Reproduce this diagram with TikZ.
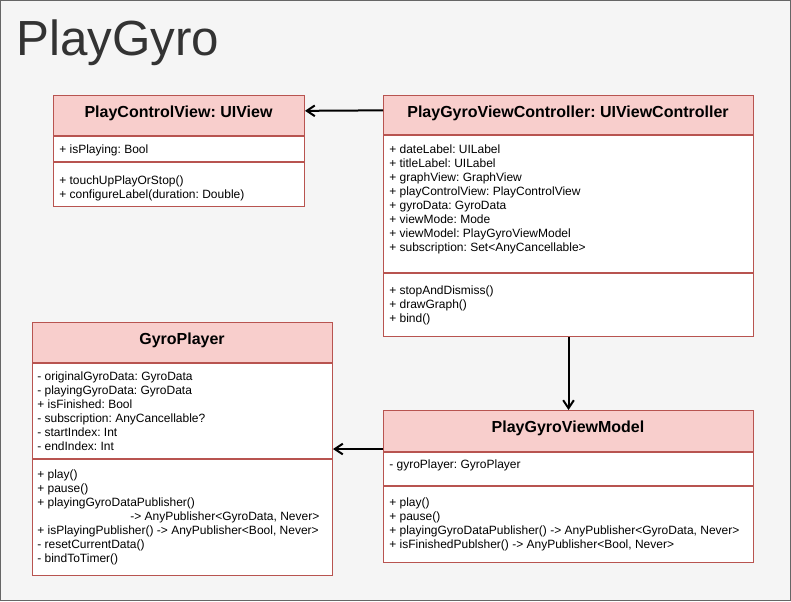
\documentclass[tikz,border=0pt]{standalone}
\usepackage{fontspec}
\setmainfont{Liberation Sans}
\usetikzlibrary{arrows.meta,positioning}
\definecolor{headfill}{HTML}{F8CECC}
\definecolor{headline}{HTML}{B85450}
\definecolor{canvas}{HTML}{F5F5F5}
\definecolor{frameline}{HTML}{666666}
\definecolor{titlegray}{HTML}{333333}
\newcommand\pix[1]{#1*0.75pt}
\frenchspacing

\begin{document}
\begin{tikzpicture}[x=0.75pt,y=-0.75pt,
  every node/.style={inner sep=0pt},
  part/.style={draw=headline, fill=white, line width=0.75pt, anchor=north west},
  head/.style={part, fill=headfill},
  cname/.style={anchor=base, font=\fontsize{12}{14}\selectfont\bfseries},
  member/.style={anchor=base west, font=\fontsize{9}{10.5}\selectfont},
  link/.style={-{Straight Barb[length=6pt,width=8pt]}, line width=1.5pt}]
  \useasboundingbox (0,0) rectangle (791,601);
  \draw[frameline, fill=canvas] (0.5,0.5) rectangle (790.5,600.5);
  \node[anchor=base west, text=titlegray, font=\fontsize{37}{42}\selectfont] (title) at (16,55) {PlayGyro};

  % PlayControlView
  \node[head, minimum width=\pix{251}, minimum height=\pix{40}] (pcvHead) at (53,95) {};
  \node[part, minimum width=\pix{251}, minimum height=\pix{25}] (pcvAttr) at (pcvHead.south west) {};
  \node[part, minimum width=\pix{251}, minimum height=\pix{44}] (pcvOps) at (pcvAttr.south west) {};
  \node[cname] (pcvName) at (178.5,117) {PlayControlView: UIView};
  \node[member] (pcvA1) at (59,153) {+ isPlaying: Bool};
  \foreach \t [count=\i] in {{+ touchUpPlayOrStop()},{+ configureLabel(duration: Double)}}
    \node[member] (pcvO\i) at (59,{170+14*\i}) {\t};

  % PlayGyroViewController
  \node[head, minimum width=\pix{370}, minimum height=\pix{39}] (vcHead) at (383,95) {};
  \node[part, minimum width=\pix{370}, minimum height=\pix{137}] (vcAttr) at (vcHead.south west) {};
  \node[part, minimum width=\pix{370}, minimum height=\pix{63}] (vcOps) at (vcAttr.south west) {};
  \node[cname] (vcName) at (568,117) {PlayGyroViewController: UIViewController};
  \foreach \t [count=\i] in {{+ dateLabel: UILabel},{+ titleLabel: UILabel},{+ graphView: GraphView},
      {+ playControlView: PlayControlView},{+ gyroData: GyroData},{+ viewMode: Mode},
      {+ viewModel: PlayGyroViewModel},{+ subscription: Set<AnyCancellable>}}
    \node[member] (vcA\i) at (389,{139+14*\i}) {\t};
  \foreach \t [count=\i] in {{+ stopAndDismiss()},{+ drawGraph()},{+ bind()}}
    \node[member] (vcO\i) at (389,{280+14*\i}) {\t};

  % GyroPlayer
  \node[head, minimum width=\pix{300}, minimum height=\pix{40}] (gpHead) at (32,322) {};
  \node[part, minimum width=\pix{300}, minimum height=\pix{95}] (gpAttr) at (gpHead.south west) {};
  \node[part, minimum width=\pix{300}, minimum height=\pix{116}] (gpOps) at (gpAttr.south west) {};
  \node[cname] (gpName) at (182,344) {GyroPlayer};
  \foreach \t [count=\i] in {{- originalGyroData: GyroData},{- playingGyroData: GyroData},{+ isFinished: Bool},
      {- subscription: AnyCancellable?},{- startIndex: Int},{- endIndex: Int}}
    \node[member] (gpA\i) at (37,{366+14*\i}) {\t};
  \foreach \dx/\t [count=\i] in {0/{+ play()},0/{+ pause()},0/{+ playingGyroDataPublisher()},
      93/{-> AnyPublisher<GyroData, Never>},0/{+ isPlayingPublisher() -> AnyPublisher<Bool, Never>},
      0/{- resetCurrentData()},0/{- bindToTimer()}}
    \node[member] (gpO\i) at ({37+\dx},{464+14*\i}) {\t};

  % PlayGyroViewModel
  \node[head, minimum width=\pix{370}, minimum height=\pix{41}] (vmHead) at (383,410) {};
  \node[part, minimum width=\pix{370}, minimum height=\pix{33}] (vmAttr) at (vmHead.south west) {};
  \node[part, minimum width=\pix{370}, minimum height=\pix{76}] (vmOps) at (vmAttr.south west) {};
  \node[cname] (vmName) at (568,432) {PlayGyroViewModel};
  \node[member] (vmA1) at (389,468) {- gyroPlayer: GyroPlayer};
  \foreach \t [count=\i] in {{+ play()},{+ pause()},{+ playingGyroDataPublisher() -> AnyPublisher<GyroData, Never>},
      {+ isFinishedPublsher() -> AnyPublisher<Bool, Never>}}
    \node[member] (vmO\i) at (389,{492+14*\i}) {\t};

  % links
  \draw[link] ([yshift=3.5pt]vcHead.west) -- ([yshift=3.5pt]pcvHead.east);
  \draw[link] (vcOps.south) -- (vmHead.north);
  \coordinate (gpIn) at ([yshift=2.25pt]vmHead.south west);
  \draw[link] (gpIn) -- (gpIn -| gpAttr.east);
\end{tikzpicture}
\end{document}
